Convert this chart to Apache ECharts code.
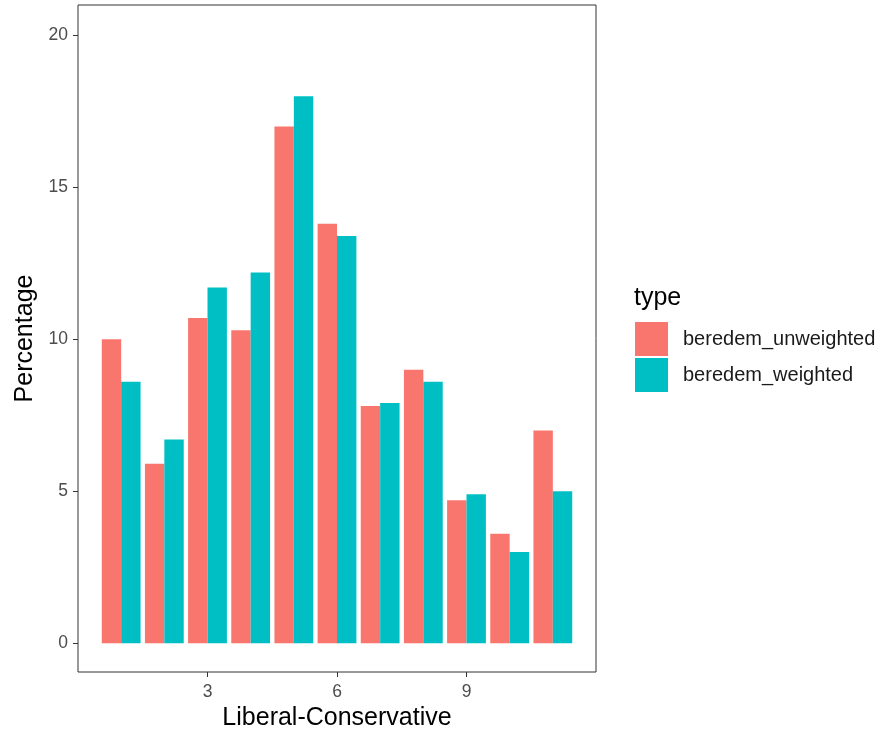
<!DOCTYPE html>
<html>
<head>
<meta charset="utf-8">
<script src="https://cdn.jsdelivr.net/npm/echarts@6/dist/echarts.min.js"></script>
<style>html,body{margin:0;padding:0;background:#fff;}#c{width:896px;height:733px;}</style>
</head>
<body>
<div id="c"></div>
<script>
const xValues = [1,2,3,4,5,6,7,8,9,10,11];
const unweighted = [10.0,5.9,10.7,10.3,17.0,13.8,7.8,9.0,4.7,3.6,7.0];
const weighted = [8.6,6.7,11.7,12.2,18.0,13.4,7.9,8.6,4.9,3.0,5.0];
const xTicks = [3,6,9];
const yTicks = [0,5,10,15,20];
const seriesNames = ['beredem_unweighted','beredem_weighted'];

const font = "'Liberation Sans', Arial, sans-serif";
const chart = echarts.init(document.getElementById('c'), null, {renderer:'canvas'});
chart.setOption({
  animation:false,
  backgroundColor:'#fff',
  title:{text:'type', left:629, top:281, textStyle:{fontFamily:font, fontSize:25, fontWeight:'normal', color:'#000'}},
  legend:{
    orient:'vertical', left:635, top:322, padding:0, itemWidth:33, itemHeight:34, itemGap:2,
    icon:'rect', data:seriesNames,
    textStyle:{fontFamily:font, fontSize:20, color:'#1a1a1a', padding:[0,0,0,10]}
  },
  grid:{left:78, right:300, top:5, bottom:61, show:true, borderColor:'#333', borderWidth:1, backgroundColor:'#fff', outerBoundsMode:'none', containLabel:false},
  xAxis:{
    type:'value', min:0, max:12,
    name:'Liberal-Conservative', nameLocation:'middle', nameGap:33,
    nameTextStyle:{fontFamily:font, fontSize:25, color:'#000'},
    axisLine:{show:false, onZero:false},
    splitLine:{show:false},
    axisTick:{show:true, length:5, lineStyle:{color:'#333'}, customValues:xTicks},
    axisLabel:{fontFamily:font, fontSize:17.5, color:'#4d4d4d', margin:11, customValues:xTicks}
  },
  yAxis:{
    type:'value', min:-0.95, max:21,
    name:'Percentage', nameLocation:'middle', nameGap:39, nameRotate:90,
    nameTextStyle:{fontFamily:font, fontSize:25, color:'#000'},
    axisLine:{show:false, onZero:false},
    splitLine:{show:false},
    axisTick:{show:true, length:5, lineStyle:{color:'#333'}, customValues:yTicks},
    axisLabel:{fontFamily:font, fontSize:17.5, color:'#4d4d4d', margin:10, customValues:yTicks}
  },
  series:[
    {name:seriesNames[0], type:'bar', barWidth:19.4, barGap:'0%', itemStyle:{color:'#F8766D'},
     data:xValues.map((x,i)=>[x,unweighted[i]])},
    {name:seriesNames[1], type:'bar', barWidth:19.4, barGap:'0%', itemStyle:{color:'#00BFC4'},
     data:xValues.map((x,i)=>[x,weighted[i]])}
  ]
});
</script>
</body>
</html>
